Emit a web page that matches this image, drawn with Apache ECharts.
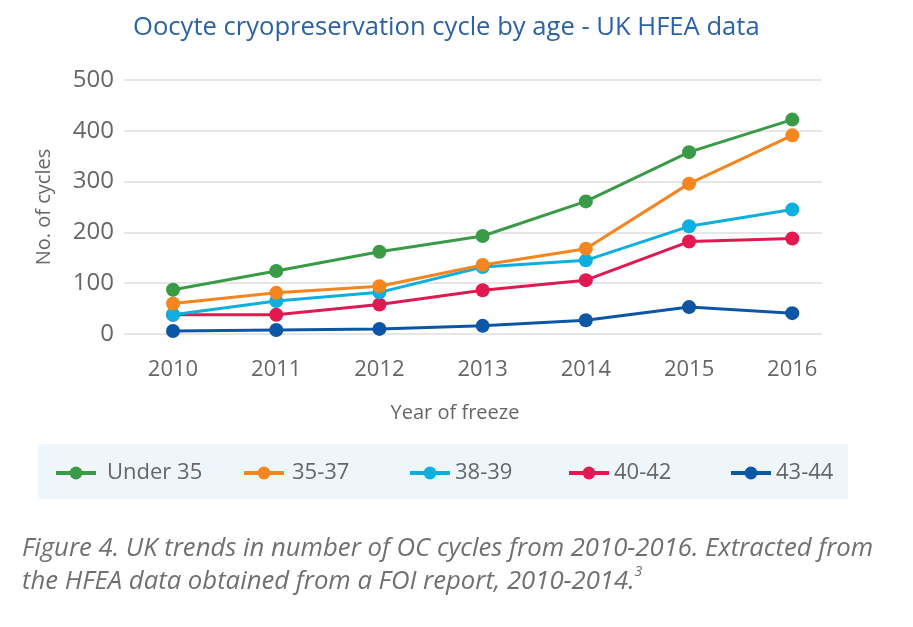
<!DOCTYPE html>
<html>
<head>
<meta charset="utf-8">
<script src="https://cdn.jsdelivr.net/npm/echarts@6/dist/echarts.min.js"></script>
<style>
html,body{margin:0;padding:0;background:#fff;}
#chart{width:913px;height:627px;}
</style>
</head>
<body>
<div id="chart"></div>
<script>
const years = [2010, 2011, 2012, 2013, 2014, 2015, 2016];
const seriesNames = ['Under 35', '35-37', '38-39', '40-42', '43-44'];
const under35 = [87, 124, 162, 193, 261, 358, 422];
const age35to37 = [60, 81, 94, 136, 168, 296, 391];
const age38to39 = [38, 65, 82, 132, 145, 212, 245];
const age40to42 = [38, 38, 58, 86, 106, 182, 188];
const age43to44 = [6, 8, 10, 16, 27, 53, 41];
const yTicks = [0, 100, 200, 300, 400, 500];

const colors = ['#3a9b47', '#f4851f', '#0cafde', '#e01a50', '#0b57a6'];
const values = [under35, age35to37, age38to39, age40to42, age43to44];
const legendLefts = [49, 237, 403, 562, 724];
const legendTextPad = [6, 3, 0, 0, 0];

const chart = echarts.init(document.getElementById('chart'));
const font = '"Open Sans", "Noto Sans", sans-serif';

chart.setOption({
  backgroundColor: '#ffffff',
  animation: false,
  title: {
    text: 'Oocyte cryopreservation cycle by age - UK HFEA data',
    left: 128,
    top: 10,
    textStyle: {color: '#2b62aa', fontSize: 25.6, fontWeight: 'normal', fontFamily: font}
  },
  grid: {left: 124, right: 91, top: 80, bottom: 293},
  xAxis: {
    type: 'value',
    min: 2009.525,
    max: 2016.288,
    name: 'Year of freeze',
    nameLocation: 'middle',
    nameGap: 69,
    nameTextStyle: {color: '#666', fontSize: 20, fontFamily: font, padding: [0, 36, 0, 0]},
    axisLine: {show: false},
    axisTick: {show: false},
    splitLine: {show: false},
    axisLabel: {
      customValues: years,
      margin: 25,
      color: '#666',
      fontSize: 22,
      fontFamily: font,
      formatter: v => String(v)
    }
  },
  yAxis: {
    type: 'value',
    min: 0,
    max: 500,
    interval: 100,
    name: 'No. of cycles',
    nameLocation: 'middle',
    nameGap: 70,
    nameTextStyle: {color: '#666', fontSize: 20, fontFamily: font},
    axisLine: {show: false},
    axisTick: {show: false},
    axisLabel: {
      customValues: yTicks,
      margin: 10,
      color: '#666',
      fontSize: 24,
      fontFamily: font
    },
    splitLine: {lineStyle: {color: '#e6e6e6', width: 2}}
  },
  graphic: [
    {
      type: 'rect',
      left: 38, top: 444,
      shape: {width: 810, height: 55},
      style: {fill: '#eef5fb'},
      z: -1
    },
    {
      type: 'text',
      left: 22, top: 532,
      style: {
        text: 'Figure 4. UK trends in number of OC cycles from 2010-2016. Extracted from\nthe HFEA data obtained from a FOI report, 2010-2014.{sup|3}',
        fill: '#707070',
        font: 'italic 25.7px ' + font,
        lineHeight: 33,
        rich: {sup: {fontSize: 14, fontStyle: 'italic', verticalAlign: 'top', padding: [0, 0, 14, 0], fill: '#707070', fontFamily: font}}
      }
    }
  ],
  legend: seriesNames.map((name, i) => ({
    left: legendLefts[i],
    top: 457,
    itemWidth: 40,
    itemHeight: 16,
    lineStyle: {width: 4},
    textStyle: {color: '#666', fontSize: 22, fontFamily: font, padding: [0, 0, 0, legendTextPad[i]]},
    data: [name]
  })),
  series: seriesNames.map((name, i) => ({
    name: name,
    type: 'line',
    data: years.map((y, j) => [y, values[i][j]]),
    symbol: 'circle',
    symbolSize: 14,
    lineStyle: {width: 3, color: colors[i]},
    itemStyle: {color: colors[i]},
    z: 10 - i
  }))
});
</script>
</body>
</html>
